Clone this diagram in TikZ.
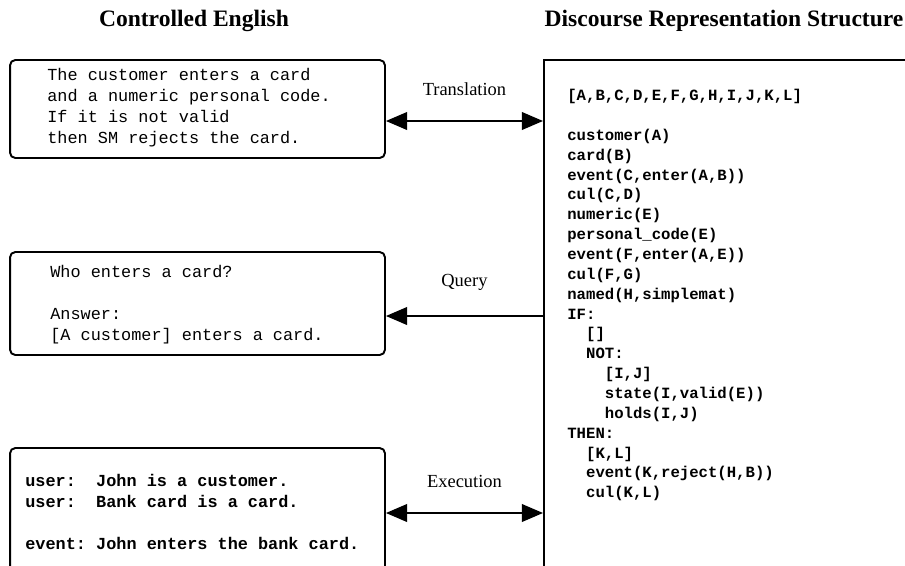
\documentclass[tikz,border=0pt]{standalone}
\usepackage{fontspec}
\setmainfont{Liberation Serif}
\setmonofont{Liberation Mono}
\usepackage{tikz}
\usetikzlibrary{positioning,arrows.meta}

\tikzset{
  ebox/.style={draw,line width=1.1pt,rounded corners=3pt,minimum width=7.5cm},
  etext/.style={font=\ttfamily\fontsize{9.6}{11.9}\selectfont,align=left,inner sep=0pt},
  dtext/.style={font=\ttfamily\bfseries\fontsize{8.9}{11.3}\selectfont,align=left,inner sep=0pt},
  head/.style={font=\bfseries\fontsize{13.4}{15}\selectfont},
  rel/.style={font=\fontsize{10.5}{12}\selectfont},
  link/.style={line width=1.1pt,>={Triangle[length=12pt,width=10pt]}}
}

\begin{document}
\begin{tikzpicture}[x=0.02cm,y=-0.02cm,auto]
  \clip (0,0) rectangle (905,565);
  % headings
  \node[head] (hce) at (194,21) {Controlled English};
  \node[head] (hdrs) at (724,21) {Discourse Representation Structure};
  % left boxes
  \node[ebox,minimum height=1.96cm] (ce1) at (197.5,109) {};
  \node[etext,anchor=north west] (ce1txt) at (47,68) {The customer enters a card\\
    and a numeric personal code.\\If it is not valid\\then SM rejects the card.};
  \node[ebox,minimum height=2.06cm] (ce2) at (197.5,303.5) {};
  \node[etext,anchor=north west] (ce2txt) at (50,265) {Who enters a card?\\[11.9pt]
    Answer:\\{[}A customer{]} enters a card.};
  \node[ebox,minimum height=4cm] (ce3) at (197.5,548) {};
  \node[etext,font=\ttfamily\bfseries\fontsize{9.6}{11.9}\selectfont,anchor=north west] (ce3txt) at (25,474) {user:~~John is a customer.\\
    user:~~Bank card is a card.\\[11.9pt]event:~John enters the bank card.};
  % drs box
  \node[draw,line width=1.1pt,minimum width=8cm,minimum height=11cm,anchor=north west] (drs) at (543,59) {};
  \node[dtext,anchor=north west] (drstxt) at (567,89) {{[}A,B,C,D,E,F,G,H,I,J,K,L{]}\\[11.3pt]
    customer(A)\\card(B)\\event(C,enter(A,B))\\cul(C,D)\\numeric(E)\\
    personal\_code(E)\\event(F,enter(A,E))\\cul(F,G)\\named(H,simplemat)\\IF:\\
    \phantom{xx}{[}{]}\\\phantom{xx}NOT:\\\phantom{xxxx}{[}I,J{]}\\
    \phantom{xxxx}state(I,valid(E))\\\phantom{xxxx}holds(I,J)\\THEN:\\
    \phantom{xx}{[}K,L{]}\\\phantom{xx}event(K,reject(H,B))\\\phantom{xx}cul(K,L)};
  % relations
  \draw[link,<->] (ce1.east |- 0,121) -- node[rel,above=0.38cm] {Translation} (drs.west |- 0,121);
  \draw[link,->] (drs.west |- 0,316) -- node[rel,above=0.38cm] {Query} (ce2.east |- 0,316);
  \draw[link,<->] (ce3.east |- 0,513) -- node[rel,above=0.38cm] {Execution} (drs.west |- 0,513);
\end{tikzpicture}
\end{document}
